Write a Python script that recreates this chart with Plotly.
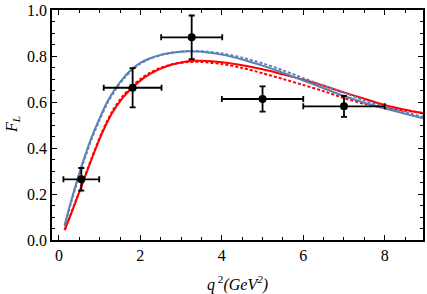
import plotly.graph_objects as go

# Experimental points
q2_data = [0.55, 1.81, 3.26, 5.0, 7.0]
fl_data = [0.264, 0.662, 0.881, 0.613, 0.581]
q2_err = [0.44, 0.71, 0.75, 1.0, 1.0]
fl_err = [0.049, 0.085, 0.095, 0.055, 0.046]

# Theory curves
q2_blue = [0.14, 0.3, 0.44, 0.6, 0.8, 1.0, 1.2, 1.4, 1.6, 1.8, 2.0, 2.24, 2.5, 2.8, 3.0, 3.2, 3.5, 4.0, 4.5, 5.0, 5.5, 6.0, 6.5, 7.0, 7.5, 8.0, 8.5, 8.94]
fl_blue_solid = [0.065, 0.17, 0.255, 0.345, 0.445, 0.53, 0.605, 0.662, 0.708, 0.744, 0.77, 0.79, 0.805, 0.815, 0.819, 0.821, 0.818, 0.806, 0.785, 0.758, 0.727, 0.693, 0.66, 0.626, 0.597, 0.572, 0.549, 0.529]
fl_blue_dash = [0.06, 0.163, 0.247, 0.337, 0.437, 0.523, 0.598, 0.656, 0.703, 0.74, 0.767, 0.788, 0.804, 0.815, 0.82, 0.822, 0.821, 0.811, 0.793, 0.768, 0.738, 0.704, 0.671, 0.64, 0.607, 0.579, 0.555, 0.536]

q2_red = [0.14, 0.3, 0.6, 0.8, 1.05, 1.3, 1.55, 1.8, 2.0, 2.24, 2.5, 2.8, 3.0, 3.3, 3.5, 4.0, 4.5, 5.0, 5.5, 6.0, 6.5, 7.0, 7.5, 8.0, 8.5, 8.94]
fl_red_solid = [0.043, 0.115, 0.255, 0.35, 0.46, 0.55, 0.615, 0.662, 0.693, 0.722, 0.745, 0.764, 0.772, 0.779, 0.779, 0.773, 0.76, 0.742, 0.72, 0.697, 0.671, 0.642, 0.614, 0.587, 0.566, 0.551]
fl_red_dash = [0.043, 0.116, 0.258, 0.355, 0.466, 0.557, 0.622, 0.669, 0.7, 0.728, 0.749, 0.765, 0.771, 0.775, 0.774, 0.765, 0.748, 0.725, 0.7, 0.674, 0.647, 0.617, 0.592, 0.575, 0.562, 0.553]

x_ticks = [0, 2, 4, 6, 8]
y_ticks = [0.0, 0.2, 0.4, 0.6, 0.8, 1.0]

BLUE = "#5E81B5"
RED = "#FF0000"

fig = go.Figure()
fig.add_trace(go.Scatter(x=q2_red, y=fl_red_dash, mode="lines",
                         line=dict(color=RED, width=2, dash="3px,2px", shape="spline", smoothing=0.8)))
fig.add_trace(go.Scatter(x=q2_red, y=fl_red_solid, mode="lines",
                         line=dict(color=RED, width=2, shape="spline", smoothing=0.8)))
fig.add_trace(go.Scatter(x=q2_blue, y=fl_blue_dash, mode="lines",
                         line=dict(color=BLUE, width=2, dash="3px,2px", shape="spline", smoothing=0.8)))
fig.add_trace(go.Scatter(x=q2_blue, y=fl_blue_solid, mode="lines",
                         line=dict(color=BLUE, width=2, shape="spline", smoothing=0.8)))
fig.add_trace(go.Scatter(
    x=q2_data, y=fl_data, mode="markers",
    marker=dict(color="black", size=8),
    error_x=dict(type="data", array=q2_err, color="black", thickness=1.8, width=3),
    error_y=dict(type="data", array=fl_err, color="black", thickness=1.8, width=3),
))

font = dict(family="Liberation Serif", size=16, color="black")

fig.update_layout(
    width=427, height=294,
    margin=dict(l=52, r=4, t=10, b=54, autoexpand=False),
    paper_bgcolor="white", plot_bgcolor="white",
    showlegend=False,
    font=font,
    annotations=[
        dict(text="<i>q</i><sup> 2</sup><i>(GeV<sup>2</sup>)</i>", xref="paper", yref="paper",
             x=0.5, y=0, yshift=-43, xanchor="center", yanchor="middle",
             showarrow=False, font=font),
        dict(text="<i>F<sub>L</sub></i>", xref="paper", yref="paper",
             x=0, y=0.5, xshift=-40, xanchor="center", yanchor="middle",
             textangle=-90, showarrow=False, font=font),
    ],
)
fig.update_xaxes(
    range=[-0.17, 8.94], tickvals=x_ticks, ticktext=[str(v) for v in x_ticks],
    ticks="inside", ticklen=5, tickwidth=1.3, tickcolor="black",
    minor=dict(dtick=0.5, tick0=0, ticks="inside", ticklen=3, tickwidth=1.3, tickcolor="black"),
    showline=True, linecolor="black", linewidth=1.6, mirror="ticks",
    showgrid=False, zeroline=False, automargin=False,
    tickfont=font,
)
fig.update_yaxes(
    range=[0, 1.0], tickvals=y_ticks, ticktext=[f"{v:.1f}" for v in y_ticks],
    ticks="inside", ticklen=5, tickwidth=1.3, tickcolor="black",
    minor=dict(dtick=0.05, tick0=0, ticks="inside", ticklen=3, tickwidth=1.3, tickcolor="black"),
    showline=True, linecolor="black", linewidth=1.6, mirror="ticks",
    showgrid=False, zeroline=False, automargin=False,
    tickfont=font, ticklabeloverflow="allow",
)

fig.write_html("out.html", config={"displayModeBar": False},
               post_script="document.body.style.margin='0px';")
